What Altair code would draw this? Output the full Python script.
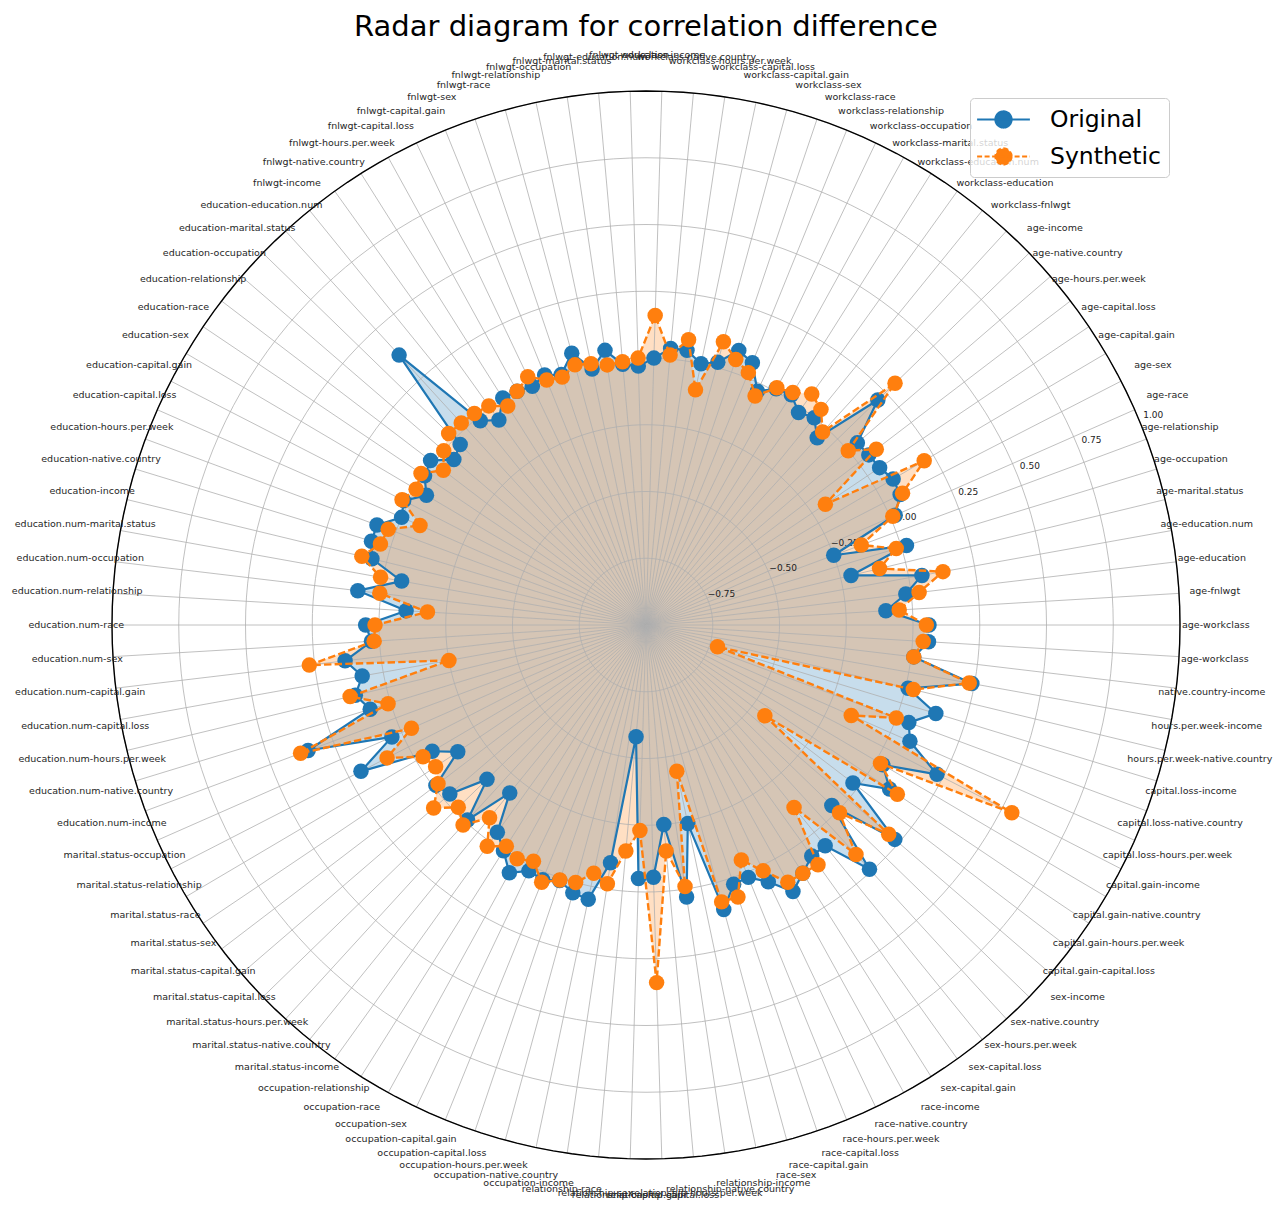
import itertools
import altair as alt
import numpy as np
import pandas as pd

# ---------------- data ----------------
columns = ["age", "workclass", "fnlwgt", "education", "education.num",
           "marital.status", "occupation", "relationship", "race", "sex",
           "capital.gain", "capital.loss", "hours.per.week", "native.country",
           "income"]
pair_labels = [f"{a}-{b}" for a, b in itertools.combinations(columns, 2)]
pair_labels = pair_labels + [pair_labels[0]]

original = [0.06, -0.10, -0.02, 0.05, -0.21, 0.02, -0.25, 0.02, 0.07, 0.075,
            0.055, 0.05, 0.045, 0.21, -0.05, 0.0, -0.02, 0.02, 0.01, -0.03,
            0.06, 0.085, 0.02, 0.0, 0.04, 0.04, 0.0, -0.03, -0.02, 0.04,
            -0.02, 0.055, -0.01, 0.01, -0.01, 0.0, 0.005, -0.055, -0.015, 0.37,
            -0.03, -0.05, 0.015, 0.0, -0.045, 0.02, 0.0, 0.075, 0.075, 0.056,
            -0.07, 0.087, -0.10, 0.05, 0.03, 0.135, 0.08, 0.12, 0.08, 0.35,
            0.04, 0.2, -0.07, -0.15, -0.01, -0.03, -0.17, -0.01, -0.19, -0.045,
            0.0, 0.06, 0.02, 0.03, 0.01, 0.04, 0.05, -0.10, -0.58, -0.05,
            -0.055, -0.25, 0.03, -0.24, 0.105, 0.025, 0.02, 0.065, 0.14, 0.1,
            0.065, 0.065, 0.24, -0.03, 0.23, -0.025, 0.1, 0.03, 0.225, 0.08,
            0.05, 0.135, 0.01, 0.24, 0.01, 0.06]

synthetic = [0.05, -0.05, 0.03, 0.13, -0.10, -0.02, -0.14, 0.01, 0.08, 0.21,
             -0.19, 0.085, 0.0, 0.30, -0.02, 0.04, 0.065, 0.03, 0.015, -0.05,
             0.02, 0.05, 0.10, -0.10, 0.08, 0.015, 0.16, 0.0, -0.01, -0.015,
             0.0, 0.01, -0.02, -0.01, 0.03, 0.0, -0.03, 0.01, 0.02, 0.025,
             0.03, 0.0, -0.045, 0.016, 0.0, 0.027, -0.075, 0.03, 0.04, 0.095,
             0.01, 0.004, -0.18, 0.015, 0.02, 0.27, -0.25, 0.14, 0.01, 0.38,
             -0.04, 0.09, -0.03, -0.05, -0.02, 0.05, -0.02, 0.015, -0.07, 0.02,
             -0.02, 0.0, -0.02, 0.04, 0.008, 0.0, -0.05, -0.02, -0.15, -0.23,
             0.34, -0.15, -0.01, -0.44, 0.075, 0.075, -0.05, 0.02, 0.10, 0.1,
             0.105, -0.12, 0.165, 0.01, 0.20, -0.44, 0.135, 0.02, 0.54, -0.16,
             0.0, -0.72, 0.03, 0.23, 0.01, 0.04]

radial_ticks = [-0.75, -0.50, -0.25, 0.0, 0.25, 0.50, 0.75, 1.00]
radial_tick_text = ["\u22120.75", "\u22120.50", "\u22120.25", "0.00",
                    "0.25", "0.50", "0.75", "1.00"]
series_names = ["Original", "Synthetic"]
title_text = "Radar diagram for correlation difference"

# ---------------- styling ----------------
BLUE = "#1f77b4"
ORANGE = "#ff7f0e"
GRID = "#b0b0b0"
FONT = "DejaVu Sans"
N = len(pair_labels)
R_MIN, R_MAX = -1.0, 1.0
PLOT = 1068
LABEL_R = 1.067
RLABEL_PAD = 0.028

xs = alt.Scale(domain=[-1, 1], nice=False, zero=False)
ys = alt.Scale(domain=[-1, 1], nice=False, zero=False)


def XY(xf="x", yf="y"):
    return dict(x=alt.X(f"{xf}:Q", scale=xs, axis=None),
                y=alt.Y(f"{yf}:Q", scale=ys, axis=None))


rr_expr = f"(datum.value - ({R_MIN}))/({R_MAX} - ({R_MIN}))"

# points data
pts = pd.DataFrame({
    "k": list(range(N)) * 2,
    "label": pair_labels * 2,
    "series": [series_names[0]] * N + [series_names[1]] * N,
    "value": original + synthetic,
})
base_pts = (alt.Chart(pts)
            .transform_calculate(theta=f"datum.k*2*PI/{N}", rr=rr_expr)
            .transform_calculate(x="datum.rr*cos(datum.theta)",
                                 y="datum.rr*sin(datum.theta)"))

# grid circles
grid_df = pd.DataFrame([(lv, a) for lv in radial_ticks for a in np.arange(0, 361, 2)],
                       columns=["value", "a"])
grid_base = (alt.Chart(grid_df)
             .transform_calculate(theta="datum.a*PI/180", rr=rr_expr)
             .transform_calculate(x="datum.rr*cos(datum.theta)",
                                  y="datum.rr*sin(datum.theta)"))
grid = grid_base.mark_line(color=GRID, strokeWidth=0.8).encode(
    **XY(), detail="value:N", order="a:Q")
outer = grid_base.transform_filter(f"datum.value == {R_MAX}").mark_line(
    color="black", strokeWidth=1.4).encode(**XY(), order="a:Q")

# spokes and angular labels
ang_df = pd.DataFrame({"k": list(range(N)), "label": pair_labels})
ang_base = (alt.Chart(ang_df)
            .transform_calculate(theta=f"datum.k*2*PI/{N}")
            .transform_calculate(x0="0", y0="0",
                                 x1="cos(datum.theta)", y1="sin(datum.theta)",
                                 xl=f"{LABEL_R}*cos(datum.theta)",
                                 yl=f"{LABEL_R}*sin(datum.theta)"))
spokes = ang_base.mark_rule(color=GRID, strokeWidth=0.8).encode(
    x=alt.X("x0:Q", scale=xs, axis=None), y=alt.Y("y0:Q", scale=ys, axis=None),
    x2="x1:Q", y2="y1:Q")
tick_labels = ang_base.mark_text(font=FONT, fontSize=9.5, color="#262626",
                                 align="center", baseline="middle").encode(
    **XY("xl", "yl"), text="label:N")

# radial labels
rl_df = pd.DataFrame({"value": radial_ticks, "text": radial_tick_text})
rlabels = (alt.Chart(rl_df)
           .transform_calculate(rr=rr_expr)
           .transform_calculate(x=f"(datum.rr+{RLABEL_PAD})*cos(22.5*PI/180)",
                                y=f"(datum.rr+{RLABEL_PAD})*sin(22.5*PI/180)")
           .mark_text(font=FONT, fontSize=9, color="#222222", align="center",
                      baseline="middle")
           .encode(**XY(), text="text:N"))

o_only = "datum.series == 'Original'"
s_only = "datum.series == 'Synthetic'"

fill_o = base_pts.transform_filter(o_only).mark_line(
    fill=BLUE, fillOpacity=0.25, strokeOpacity=0, interpolate="linear-closed"
).encode(**XY(), order="k:Q")
fill_s = base_pts.transform_filter(s_only).mark_line(
    fill=ORANGE, fillOpacity=0.25, strokeOpacity=0, interpolate="linear-closed"
).encode(**XY(), order="k:Q")

line_o = base_pts.transform_filter(o_only).mark_line(
    color=BLUE, strokeWidth=2.2).encode(**XY(), order="k:Q")
dots_o = base_pts.transform_filter(o_only).mark_circle(
    color=BLUE, size=240, opacity=1).encode(**XY())
line_s = base_pts.transform_filter(s_only).mark_line(
    color=ORANGE, strokeWidth=2.4, strokeDash=[7.4, 3.2]).encode(**XY(), order="k:Q")
dots_s = base_pts.transform_filter(s_only).mark_circle(
    color=ORANGE, size=240, opacity=1).encode(**XY())

# legend (invisible marks, visible legend)
sym = ("M-1.2,0L3.2,0M1.67,0A0.67,0.67,0,1,1,0.33,0"
       "A0.67,0.67,0,1,1,1.67,0Z")
leg = alt.Legend(title=None, orient="none", legendX=858, legendY=7,
                 labelFont=FONT, labelFontSize=23.5, labelColor="black",
                 symbolType=sym, symbolSize=576, symbolStrokeWidth=2.2,
                 symbolOpacity=1, labelOffset=45, rowPadding=11, padding=8,
                 strokeColor="#cccccc", fillColor="rgba(255,255,255,0.8)",
                 cornerRadius=4)
cscale = alt.Scale(domain=series_names, range=[BLUE, ORANGE])
legend_layer = base_pts.mark_point(filled=True, opacity=0, size=5).encode(
    **XY(),
    fill=alt.Fill("series:N", scale=cscale, legend=leg),
    stroke=alt.Stroke("series:N", scale=cscale, legend=leg),
    strokeDash=alt.StrokeDash("series:N",
                              scale=alt.Scale(domain=series_names,
                                              range=[[1, 0], [5, 2.5]]),
                              legend=leg),
)

chart = alt.layer(
    fill_o, fill_s, grid, spokes, outer, rlabels,
    line_o, dots_o, line_s, dots_s, tick_labels, legend_layer
).properties(
    width=PLOT, height=PLOT,
    title=alt.TitleParams(title_text, font=FONT, fontSize=29,
                          fontWeight="normal", color="black",
                          anchor="middle", frame="group", offset=8),
    padding={"left": 104, "top": 83, "right": 95, "bottom": 45},
    autosize=alt.AutoSizeParams(type="none"),
).configure_view(stroke=None)

chart.save("out.html", embed_options={"renderer": "svg", "actions": False})
